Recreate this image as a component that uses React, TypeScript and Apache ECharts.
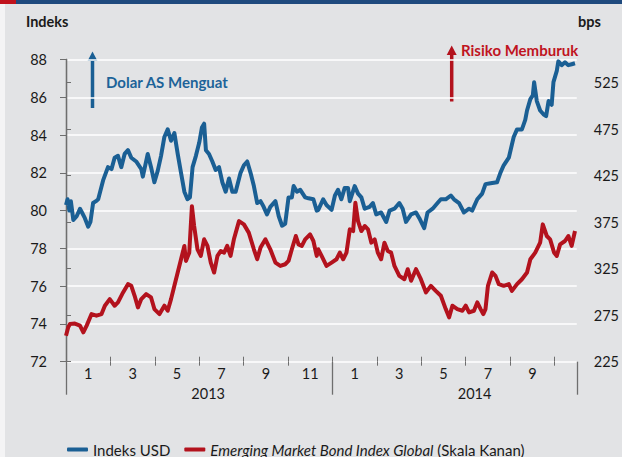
import React, { useEffect, useRef } from 'react';
import * as echarts from 'echarts';

// time in months since 1 Jan 2013 (0 = Jan 2013, 12 = Jan 2014)
const usdT = [
  0.0, 0.07, 0.15, 0.22, 0.33, 0.48, 0.63, 0.72, 0.85, 1.0, 1.1, 1.22, 1.35, 1.45, 1.67, 1.89, 2.05, 2.19, 2.34, 2.49,
  2.64, 2.79, 2.94, 3.16, 3.39, 3.46, 3.68, 3.83, 3.98, 4.13, 4.28, 4.43, 4.58, 4.73, 4.88, 5.03, 5.18, 5.33, 5.47, 5.58,
  5.7, 5.85, 6.0, 6.12, 6.22, 6.3, 6.44, 6.59, 6.74, 6.89, 7.04, 7.19, 7.34, 7.49, 7.64, 7.86, 8.01, 8.16, 8.31, 8.46,
  8.61, 8.76, 8.9, 9.05, 9.2, 9.43, 9.58, 9.73, 9.87, 10.02, 10.17, 10.25, 10.4, 10.55, 10.77, 10.92, 11.14, 11.29, 11.36, 11.58,
  11.73, 11.96, 12.11, 12.25, 12.4, 12.55, 12.7, 12.78, 13.0, 13.15, 13.3, 13.45, 13.67, 13.82, 13.97, 14.19, 14.42, 14.57, 14.79, 15.01,
  15.16, 15.31, 15.54, 15.76, 15.91, 16.13, 16.28, 16.51, 16.73, 16.88, 17.1, 17.33, 17.47, 17.7, 17.92, 18.15, 18.29, 18.52, 18.74, 18.89,
  19.12, 19.41, 19.56, 19.71, 19.94, 20.08, 20.16, 20.31, 20.53, 20.68, 20.76, 20.91, 21.02, 21.08, 21.2, 21.35, 21.5, 21.62, 21.73, 21.87,
  21.95, 22.1, 22.17, 22.32, 22.47, 22.62, 22.77, 22.92
];
const usdV = [
  80.3, 80.6, 80.0, 80.5, 79.5, 79.7, 80.1, 79.9, 79.6, 79.15, 79.4, 80.4, 80.5, 80.6, 81.6, 82.3, 82.2, 82.8, 82.9, 82.3,
  83.0, 83.2, 82.8, 82.6, 82.2, 81.8, 83.0, 82.3, 81.5, 82.1, 82.9, 83.9, 84.3, 83.7, 84.1, 83.0, 82.0, 81.0, 80.6, 80.7,
  82.3, 82.9, 83.6, 84.4, 84.6, 83.2, 83.0, 82.6, 82.15, 82.3, 81.5, 81.0, 81.7, 81.0, 81.0, 82.0, 82.4, 82.6, 82.0, 81.3,
  80.4, 80.5, 80.2, 79.8, 80.2, 80.5, 79.7, 79.2, 79.3, 80.7, 80.7, 81.3, 81.0, 81.1, 80.7, 80.65, 80.6, 80.0, 80.04, 80.6,
  80.3, 80.04, 80.8, 81.1, 80.6, 81.2, 81.2, 80.5, 81.3, 80.9, 80.7, 80.1, 80.2, 80.4, 79.8, 79.9, 79.4, 80.0, 80.1, 80.4,
  80.1, 79.4, 79.8, 79.9, 79.6, 79.07, 79.9, 80.1, 80.4, 80.6, 80.6, 80.8, 80.6, 80.4, 79.9, 80.1, 80.0, 80.6, 80.9, 81.4,
  81.45, 81.5, 82.0, 82.4, 82.8, 83.5, 83.9, 84.3, 84.3, 84.8, 85.3, 85.9, 86.1, 86.8, 85.8, 85.3, 85.1, 85.0, 85.8, 85.6,
  86.8, 87.4, 87.9, 87.7, 87.85, 87.7, 87.75, 87.8
];

const embiT = [
  0.0, 0.1, 0.18, 0.4, 0.63, 0.78, 0.93, 1.15, 1.37, 1.6, 1.75, 1.97, 2.19, 2.34, 2.57, 2.79, 2.94, 3.09, 3.24, 3.39,
  3.61, 3.83, 3.98, 4.21, 4.43, 4.58, 4.73, 4.88, 5.03, 5.18, 5.33, 5.4, 5.55, 5.67, 5.77, 5.92, 6.07, 6.22, 6.37, 6.52,
  6.67, 6.82, 6.97, 7.12, 7.26, 7.41, 7.56, 7.79, 8.01, 8.23, 8.46, 8.61, 8.76, 8.98, 9.2, 9.43, 9.65, 9.87, 10.02, 10.17,
  10.35, 10.47, 10.62, 10.77, 10.99, 11.14, 11.29, 11.36, 11.51, 11.73, 11.96, 12.18, 12.33, 12.48, 12.63, 12.78, 12.93, 13.03, 13.15, 13.3,
  13.45, 13.6, 13.75, 13.9, 14.04, 14.19, 14.34, 14.49, 14.64, 14.79, 15.01, 15.24, 15.39, 15.54, 15.76, 15.98, 16.21, 16.43, 16.65, 16.88,
  17.1, 17.25, 17.4, 17.62, 17.85, 18.0, 18.15, 18.37, 18.52, 18.67, 18.79, 18.89, 19.0, 19.19, 19.34, 19.49, 19.71, 19.94, 20.08, 20.31,
  20.53, 20.76, 20.91, 21.13, 21.35, 21.47, 21.65, 21.8, 21.98, 22.1, 22.25, 22.47, 22.62, 22.77, 22.92
];
const embiV = [
  253, 262, 265.5, 266, 263.8, 256.6, 263.8, 276.2, 274.5, 276.2, 285.2, 292.3, 285.2, 288.8, 299.5, 308.4, 306.6, 295.9, 283.4, 292.3,
  297.7, 294.1, 281.6, 276.2, 285.2, 279.8, 292.3, 306.6, 320.9, 335.2, 349.5, 333.4, 342.3, 392.3, 370.9, 345.9, 338.8, 356.6, 349.5, 331.6,
  320.9, 338.8, 344.1, 342.3, 349.5, 338.8, 356.6, 376.2, 372.7, 363.8, 345.9, 335.2, 347.7, 356.6, 345.9, 331.6, 328, 329.8, 333.4, 345.9,
  360.2, 351.2, 349.5, 356.6, 362, 354.8, 338.8, 345.9, 338.8, 328, 331.6, 335.2, 342.3, 335.2, 342.3, 367.3, 365.5, 395.9, 376.2, 365.5,
  370.9, 367.3, 353, 356.6, 342.3, 335.2, 353, 344.1, 342.3, 328, 317.3, 313.7, 324.5, 312, 324.5, 313.7, 299.5, 306.6, 301.2, 295.9,
  281.6, 272.7, 285.2, 281.6, 279.8, 285.2, 278, 279.8, 288.8, 281.6, 276.2, 281.6, 306.6, 320.9, 317.3, 308.4, 306.6, 308.4, 301.2, 308.4,
  313.7, 320.9, 335.2, 342.3, 353, 372.7, 360.2, 356.6, 342.3, 338.8, 351.2, 354.8, 360.2, 349.5, 365.5
];

const monthTickLabels = ['1', '3', '5', '7', '9', '11', '1', '3', '5', '7', '9'];
const monthTickValues = [0, 2, 4, 6, 8, 10, 12, 14, 16, 18, 20, 22];
const yearLabels = ['2013', '2014'];
const yearLabelValues = [6.4, 18.4];
const yearBoundaries = [0, 12, 23];
const rightTickValues = [225, 275, 325, 375, 425, 475, 525];

const SERIES_USD = 'Indeks USD';
const SERIES_EMBI = 'Emerging Market Bond Index Global (Skala Kanan)';

const FONT = 'Lato';
const BLUE = '#1a5f94';
const RED = '#b3121d';
const AXIS = '#6e6e6e';

export default function App() {
  const ref = useRef<HTMLDivElement>(null);
  useEffect(() => {
    document.body.style.margin = '0';
    const chart = echarts.init(ref.current!, null, { renderer: 'svg' });
    const zip = (t: number[], v: number[]) => t.map((x, i) => [x, v[i]]);
    const baseX = {
      type: 'value' as const,
      min: 0,
      max: 23,
      position: 'bottom' as const,
      axisLine: { show: false },
      splitLine: { show: false },
    };
    chart.setOption({
      animation: false,
      backgroundColor: '#e2e3e5',
      grid: { left: 66, right: 42, top: 59.5, bottom: 95.3, containLabel: false },
      xAxis: [
        {
          ...baseX,
          axisTick: { show: true, customValues: monthTickValues, length: 4, lineStyle: { color: AXIS, width: 1 } },
          axisLabel: {
            customValues: monthTickLabels.map((_, i) => i * 2 + 1),
            formatter: (v: number) => monthTickLabels[Math.round((v - 1) / 2)] ?? '',
            margin: 4,
            fontSize: 14.5,
            fontFamily: FONT,
            color: '#1a1a1a',
          },
        },
        {
          ...baseX,
          axisTick: { show: true, customValues: monthTickValues, inside: true, length: 5, lineStyle: { color: AXIS, width: 1 } },
          axisLabel: { show: false },
        },
        {
          ...baseX,
          axisTick: { show: true, customValues: yearBoundaries, length: 33, lineStyle: { color: AXIS, width: 1.3 } },
          axisLabel: {
            customValues: yearLabelValues,
            formatter: (v: number) => yearLabels[v < 12 ? 0 : 1],
            margin: 24,
            fontSize: 14.5,
            fontFamily: FONT,
            color: '#1a1a1a',
          },
        },
      ],
      yAxis: [
        {
          type: 'value',
          min: 72,
          max: 88,
          interval: 2,
          axisLine: { show: true, lineStyle: { color: AXIS, width: 1.3 } },
          axisTick: { show: true, length: 6, lineStyle: { color: AXIS } },
          axisLabel: { margin: 19, fontSize: 14.5, fontFamily: FONT, color: '#1a1a1a' },
          splitLine: { show: true, lineStyle: { color: '#ffffff', width: 1.6 } },
        },
        {
          type: 'value',
          min: 225,
          max: 550,
          position: 'right',
          axisLine: { show: true, lineStyle: { color: AXIS, width: 1.3 } },
          axisTick: { show: true, customValues: rightTickValues, length: 5, lineStyle: { color: AXIS } },
          axisLabel: { customValues: rightTickValues, margin: 17, fontSize: 14.5, fontFamily: FONT, color: '#1a1a1a' },
          splitLine: { show: false },
        },
      ],
      legend: {
        left: 62,
        top: 437,
        icon: 'roundRect',
        itemWidth: 21,
        itemHeight: 4,
        itemGap: 14,
        textStyle: {
          fontSize: 15,
          fontFamily: FONT,
          color: '#1a1a1a',
          rich: {
            it: { fontStyle: 'italic', fontSize: 15, fontFamily: FONT, color: '#1a1a1a' },
            n: { fontSize: 15, fontFamily: FONT, color: '#1a1a1a' },
          },
        },
        formatter: (name: string) =>
          name === SERIES_EMBI ? '{it|Emerging Market Bond Index Global} {n|(Skala Kanan)}' : name,
        data: [SERIES_USD, SERIES_EMBI],
      },
      series: [
        {
          name: SERIES_USD,
          type: 'line',
          xAxisIndex: 0,
          yAxisIndex: 0,
          data: zip(usdT, usdV),
          showSymbol: false,
          color: BLUE,
          lineStyle: { width: 4, color: BLUE, join: 'round' },
          z: 3,
        },
        {
          name: SERIES_EMBI,
          type: 'line',
          xAxisIndex: 0,
          yAxisIndex: 1,
          data: zip(embiT, embiV),
          showSymbol: false,
          color: RED,
          lineStyle: { width: 4, color: RED, join: 'round' },
          z: 4,
        },
      ],
      graphic: [
        { type: 'rect', shape: { x: 0, y: 4, width: 5, height: 453 }, style: { fill: '#f4f4f5' }, silent: true },
        { type: 'rect', shape: { x: 0, y: 0, width: 622, height: 4 }, style: { fill: '#1f4a7e' }, silent: true },
        { type: 'rect', shape: { x: 0, y: 0, width: 16, height: 4 }, style: { fill: '#c0121c' }, silent: true },
        {
          type: 'text',
          left: 26,
          top: 14,
          style: { text: 'Indeks', fontSize: 14.5, fontWeight: 'bold', fontFamily: FONT, fill: '#1a1a1a' },
        },
        {
          type: 'text',
          left: 578,
          top: 14,
          style: { text: 'bps', fontSize: 14.5, fontWeight: 'bold', fontFamily: FONT, fill: '#1a1a1a' },
        },
        { type: 'line', shape: { x1: 92.5, y1: 108, x2: 92.5, y2: 58 }, style: { stroke: BLUE, lineWidth: 3.5 } },
        { type: 'polygon', shape: { points: [[92.5, 51.5], [87.5, 61], [97.5, 61]] }, style: { fill: BLUE } },
        {
          type: 'text',
          left: 106,
          top: 74,
          style: { text: 'Dolar AS Menguat', fontSize: 15, fontWeight: 'bold', fontFamily: FONT, fill: '#1d6399' },
        },
        { type: 'line', shape: { x1: 451.7, y1: 101.5, x2: 451.7, y2: 52 }, style: { stroke: RED, lineWidth: 3.5 } },
        { type: 'polygon', shape: { points: [[451.7, 45.5], [446.7, 55], [456.7, 55]] }, style: { fill: RED } },
        {
          type: 'text',
          left: 461,
          top: 42,
          style: { text: 'Risiko Memburuk', fontSize: 15, fontWeight: 'bold', fontFamily: FONT, fill: '#c0141f' },
        },
      ],
    });
    return () => chart.dispose();
  }, []);
  return <div ref={ref} style={{ width: 622, height: 457, position: 'absolute', left: 0, top: 0 }} />;
}
